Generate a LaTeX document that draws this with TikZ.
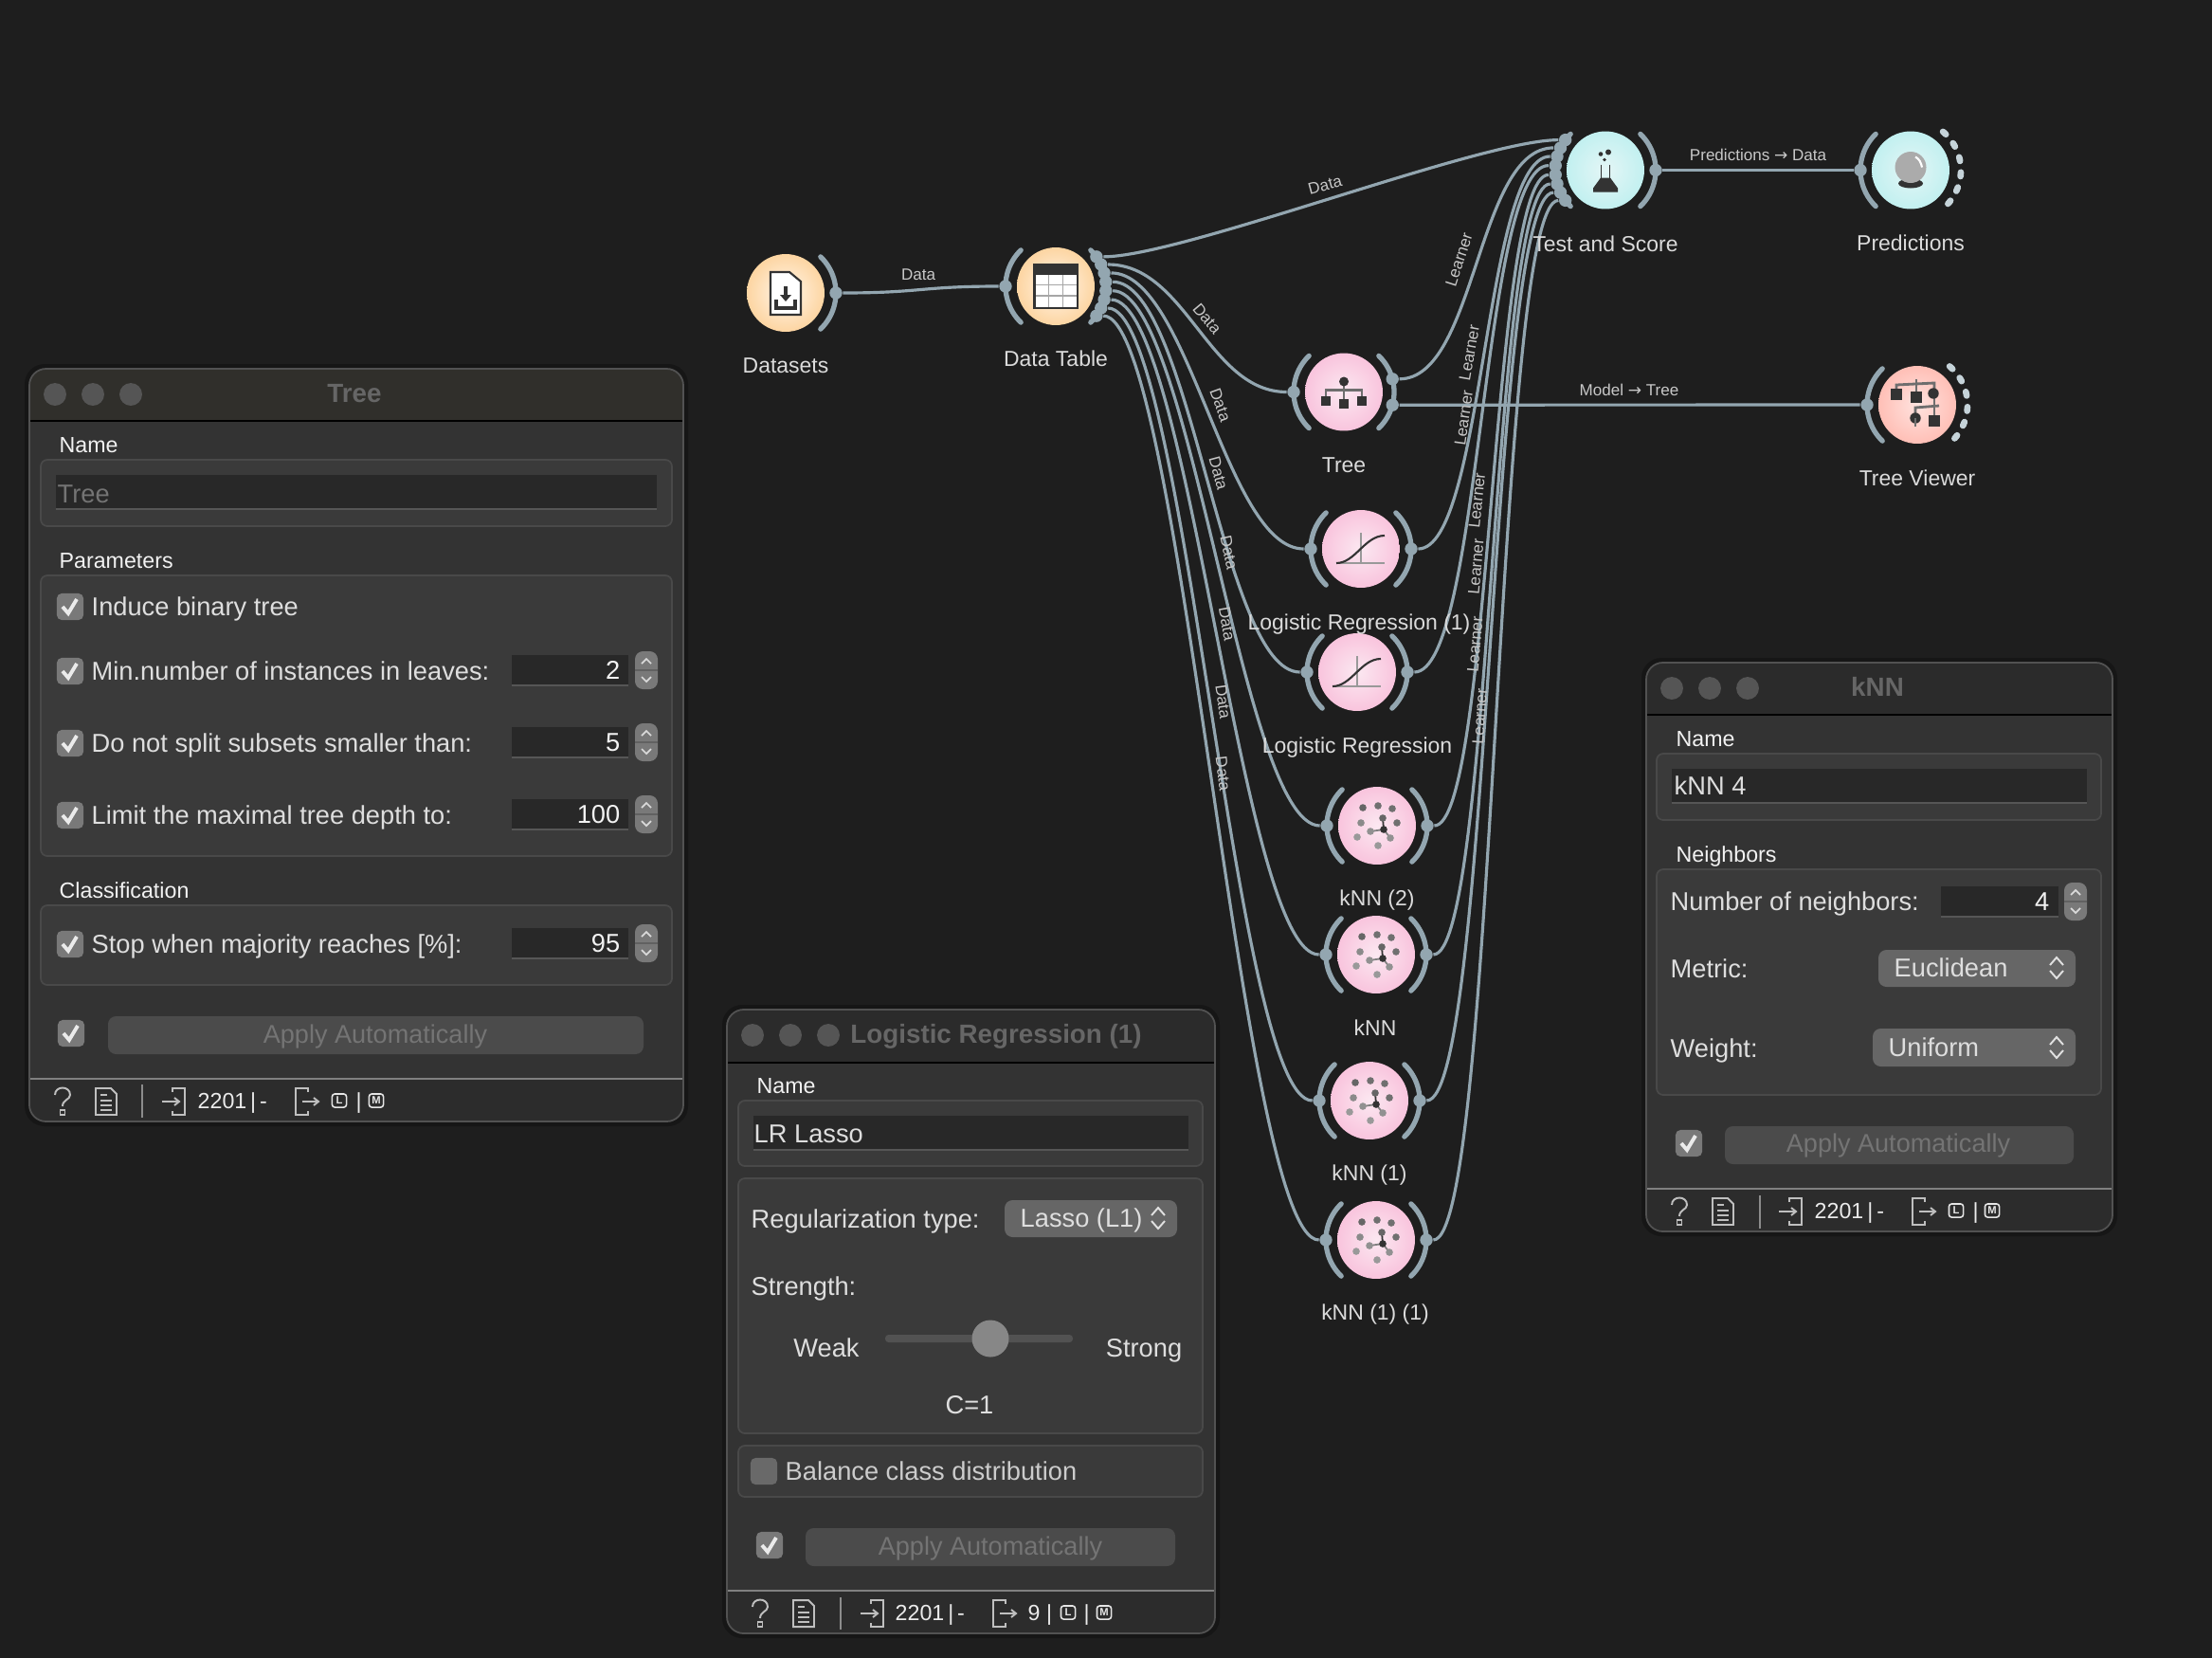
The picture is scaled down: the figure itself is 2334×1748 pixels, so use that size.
\documentclass[tikz,border=0pt]{standalone}
\usepackage{fontspec}
\setmainfont{Liberation Sans}
\newfontfamily\arrfont{DejaVu Sans}
\usetikzlibrary{calc}
\newcommand{\ftsp}{\spaceskip=.17em\relax}
\definecolor{bgcol}{HTML}{1E1E1E}
\definecolor{linkcol}{HTML}{93A6B0}
\definecolor{dashcol}{HTML}{C5D3D9}
\definecolor{icdark}{HTML}{333333}
\definecolor{icbar}{HTML}{6E6E6E}
\definecolor{orout}{HTML}{FDD5A2}
\definecolor{orin}{HTML}{FFF6EA}
\definecolor{piout}{HTML}{F9C4DD}
\definecolor{piin}{HTML}{FBE8F1}
\definecolor{cyout}{HTML}{C2F0F0}
\definecolor{cyin}{HTML}{E4F6F6}
\definecolor{saout}{HTML}{FFBFB6}
\definecolor{sain}{HTML}{FFE3DF}
\definecolor{wbody}{HTML}{333333}
\definecolor{wfootc}{HTML}{2C2C2C}
\definecolor{wtitle}{HTML}{2B2B2B}
\definecolor{wtitlew}{HTML}{302F2B}
\definecolor{gfill}{HTML}{3A3A3A}
\definecolor{gedge}{HTML}{494949}
\definecolor{infill}{HTML}{282828}
\definecolor{inedge}{HTML}{565656}
\definecolor{combo}{HTML}{666666}
\definecolor{btn}{HTML}{4B4B4B}
\definecolor{distxt}{HTML}{747474}
\tikzset{
  wnode/.style={circle, inner sep=0pt, minimum size=23.3pt, shade},
  orange/.style={wnode, inner color=orin, outer color=orout},
  pink/.style={wnode, inner color=piin, outer color=piout},
  cyan/.style={wnode, inner color=cyin, outer color=cyout},
  salmon/.style={wnode, inner color=sain, outer color=saout},
  pdot/.style={circle, inner sep=0pt, minimum size=3.8pt, fill=linkcol},
  parc/.style={draw=linkcol, line width=1.5pt, line cap=round},
  darc/.style={draw=dashcol, line width=1.9pt, line cap=round, dash pattern=on 1.2pt off 3.4pt},
  wlink/.style={draw=linkcol, line width=.9pt},
  wname/.style={font=\fontsize{6.53}{8}\selectfont, text=white!86!black, text height=4.6pt, text depth=0pt, inner sep=0pt},
  llab/.style={font=\fontsize{4.85}{6}\selectfont, text=white!78!black, text height=3.5pt, text depth=0pt, inner sep=0pt},
  wtxt/.style={font=\fontsize{7.75}{9}\selectfont, text=white!87!black, anchor=west, text height=5.4pt, text depth=0pt, inner sep=0pt},
  wsec/.style={font=\fontsize{6.6}{8}\selectfont, text=white!95!black, anchor=west, text height=4.7pt, text depth=0pt, inner sep=0pt},
  wnum/.style={font=\fontsize{7.75}{9}\selectfont, text=white!95!black, anchor=east, text height=5.4pt, text depth=0pt, inner sep=0pt},
  wtit/.style={font=\bfseries\fontsize{7.9}{9}\selectfont, text=white!40!black, text height=5.6pt, text depth=0pt, inner sep=0pt},
  wdis/.style={font=\fontsize{7.7}{9}\selectfont, text=distxt, text height=5.4pt, text depth=0pt, inner sep=0pt},
  wft/.style={font=\fontsize{6.6}{8}\selectfont, text=white!92!black, anchor=west, text height=4.7pt, text depth=0pt, inner sep=0pt},
  wlight/.style={circle, inner sep=0pt, minimum size=6.8pt, fill=white!20!wtitle},
  cbx/.style={rectangle, inner sep=0pt, minimum size=8pt, rounded corners=1.5pt, fill=white!32!gfill},
  lmbox/.style={rectangle, draw=white!90!black, line width=.45pt, rounded corners=.8pt, inner sep=0pt, minimum width=4.3pt, minimum height=4pt, font=\bfseries\fontsize{3.2}{3.2}\selectfont, text=white!90!black},
  gbox/.style={fill=gfill, draw=gedge, line width=.5pt, rounded corners=2pt},
  inbox/.style={fill=infill},
  inline/.style={draw=inedge, line width=.4pt},
  combox/.style={fill=combo, rounded corners=2.4pt},
  btnbox/.style={fill=btn, rounded corners=2.4pt},
  ftic/.style={draw=white!75!black, line width=.55pt},
  chkic/.pic={\draw[white!92!black, line width=1.1pt] (-8,0)--(-2,7)--(7,-8);},
  spinic/.pic={
    \fill[white!32!gfill, rounded corners=2.4pt] (-12,-20) rectangle (12,20);
    \draw[white!20!gfill, line width=.4pt] (-12,0)--(12,0);
    \draw[white!85!black, line width=.5pt] (-5,-7)--(0,-12)--(5,-7);
    \draw[white!85!black, line width=.5pt] (-5,7)--(0,12)--(5,7);},
  updownic/.pic={
    \draw[white!88!black, line width=.55pt] (-7,-3)--(0,-11)--(7,-3);
    \draw[white!88!black, line width=.55pt] (-7,3)--(0,11)--(7,3);},
  helpic/.pic={
    \draw[ftic] (-8,-7) .. controls (-8,-17) and (8,-17) .. (8,-7) .. controls (8,-2) and (0,-2) .. (0,5);
    \draw[ftic] (-2.5,9) rectangle (2.5,14);},
  docic/.pic={
    \draw[ftic] (-11,-14)--(5,-14)--(11,-8)--(11,14)--(-11,14)--cycle;
    \draw[ftic] (-6,-7)--(1,-7);
    \draw[ftic] (-6,-1)--(6,-1);
    \draw[ftic] (-6,4)--(6,4);
    \draw[ftic] (-6,9)--(6,9);},
  inic/.pic={
    \draw[ftic] (-1,-10)--(-1,-14)--(12,-14)--(12,14)--(-1,14)--(-1,10);
    \draw[ftic] (-12,0)--(6,0);
    \draw[ftic] (1,-4)--(6,0)--(1,4);},
  outic/.pic={
    \draw[ftic] (1,-10)--(1,-14)--(-12,-14)--(-12,14)--(1,14)--(1,10);
    \draw[ftic] (-5,0)--(12,0);
    \draw[ftic] (7,-4)--(12,0)--(7,4);},
  dsic/.pic={
    \fill[white, draw=icdark, line width=.6pt] (-16,-22)--(4,-22)--(16,-12)--(16,23)--(-16,23)--cycle;
    \draw[icdark, line width=.9pt] (0,-7)--(0,4);
    \fill[icdark] (-6,2)--(6,2)--(0,9)--cycle;
    \draw[icdark, line width=.9pt] (-10,7)--(-10,16)--(10,16)--(10,7);},
  tabic/.pic={
    \fill[white] (-22.5,-23) rectangle (23,23);
    \fill[icdark] (-22.5,-23) rectangle (23,-12);
    \draw[gray!70, line width=.4pt] (-7.5,-12)--(-7.5,22);
    \draw[gray!70, line width=.4pt] (7.5,-12)--(7.5,22);
    \draw[gray!70, line width=.4pt] (-22,-1.7)--(22,-1.7);
    \draw[gray!70, line width=.4pt] (-22,10)--(22,10);
    \draw[icdark, line width=.6pt] (-22.5,-23) rectangle (23,23);},
  flaskic/.pic={
    \fill[icdark] (-13,23)--(-13,19)--(-5,8)--(5,8)--(13,19)--(13,23)--cycle;
    \draw[icdark, line width=.5pt] (-4.5,-6)--(-4.5,9);
    \draw[icdark, line width=.5pt] (4.5,-6)--(4.5,9);
    \fill[icdark] (-5,-17) circle (2.3);
    \fill[icdark] (3,-19) circle (3);
    \fill[icdark] (-1,-11) circle (1.8);},
  ballic/.pic={
    \fill[icdark] (0,14) ellipse [x radius=13, y radius=5];
    \fill[white!67!black] (0,-3) circle (16.5);
    \draw[white, line width=.6pt] (5,-14) .. controls (9,-12) and (11,-8) .. (12,-3);},
  treeic/.pic={
    \draw[icbar, line width=.6pt] (0,-11)--(0,8);
    \draw[icbar, line width=.6pt] (-19,5)--(-19,-2)--(19,-2)--(19,5);
    \fill[icdark] (0,-11) circle (5);
    \fill[icdark] (-24,4) rectangle (-14,14);
    \fill[icdark] (-5,7) rectangle (5,17);
    \fill[icdark] (14,4) rectangle (24,14);},
  lric/.pic={
    \draw[white!60!black, line width=.55pt] (-26,15)--(25,15);
    \draw[white!60!black, line width=.55pt] (0,-17)--(0,15);
    \draw[icdark, line width=.6pt] (-26,15) .. controls (-6,15) and (4,-14) .. (25,-14);},
  mobic/.pic={
    \draw[icbar, line width=.8pt] (-22,-11)--(-22,-21)--(18,-23)--(18,-12);
    \draw[icbar, line width=.8pt] (-1,-27)--(-1,-8);
    \draw[icbar, line width=.8pt] (18,-12)--(18,17);
    \draw[icbar, line width=.8pt] (-2,14)--(-2,3)--(23,1);
    \fill[icdark] (-28,-17) rectangle (-16,-5);
    \fill[icdark] (-7,-14) rectangle (5,-2);
    \fill[icdark] (17,-12) circle (5.7);
    \fill[icdark] (-2,14) circle (5.7);
    \draw[icbar, line width=.8pt] (-2,14)--(-2,23);
    \fill[icdark] (12,11) rectangle (24,23);},
  knnic/.pic={
    \draw[gray, line width=.5pt] (-7,6)--(7,4)--(14,13);
    \draw[icdark, line width=.5pt] (7,4)--(6,-8);
    \fill[white!40!black] (-15,-19) circle (3.8);
    \fill[white!44!black] (1,-21) circle (3.8);
    \fill[white!44!black] (16,-18) circle (3.8);
    \fill[white!54!black] (-17,-3) circle (3.8);
    \fill[white!40!black] (6,-8) circle (3.8);
    \fill[white!44!black] (21,-3) circle (3.8);
    \fill[white!57!black] (-7,6) circle (3.8);
    \fill[white!57!black] (14,13) circle (3.8);
    \fill[white!60!black] (-21,12) circle (3.8);
    \fill[white!60!black] (1,21) circle (3.8);
    \fill[icdark] (7,4) circle (3.8);},
}
\newcommand{\wlinkto}[2]{\draw[wlink] let \p1=(#1),\p2=(#2),\n1={min((\x2-\x1)/2,25.6pt)} in (#1) .. controls (\x1+\n1,\y1) and (\x2-\n1,\y2) .. (#2);}
\newcommand{\warcl}[1]{\draw[parc] ([shift={(134:53)}]#1.center) arc[start angle=134, end angle=226, radius=53];}
\newcommand{\warcr}[1]{\draw[parc] ([shift={(-46:53)}]#1.center) arc[start angle=-46, end angle=46, radius=53];}
\newcommand{\warcd}[1]{\draw[darc] ([shift={(-50:53)}]#1.center) arc[start angle=-50, end angle=50, radius=53];}
\newcommand{\wwin}[7]{%
  \fill[black!25!bgcol, rounded corners=6pt] (#1-5,#2-5) rectangle (#3+5,#4+5);
  \begin{scope}
    \clip[rounded corners=5pt] (#1,#2) rectangle (#3,#4);
    \fill[wbody] (#1,#2) rectangle (#3,#4);
    \fill[#7] (#1,#2) rectangle (#3,#5);
    \fill[wfootc] (#1,#6) rectangle (#3,#4);
    \draw[black, line width=.5pt] (#1,#5)--(#3,#5);
    \draw[white!50!black, line width=.4pt] (#1,#6)--(#3,#6);
  \end{scope}
  \draw[white!32!black, line width=.5pt, rounded corners=5pt] (#1,#2) rectangle (#3,#4);}
\begin{document}
\begin{tikzpicture}[x=.01cm, y=-.01cm]
\useasboundingbox (0,0) rectangle (2334,1748);
\fill[bgcol] (-5,-5) rectangle (2340,1755);
\node[orange] (wid0) at (829,309){};
\node[orange] (wid1) at (1114,302){};
\node[cyan] (wid2) at (1694,179.5){};
\node[cyan] (wid3) at (2016,179.5){};
\node[pink] (wid4) at (1418,413.5){};
\node[salmon] (wid5) at (2023,427){};
\node[pink] (wid6) at (1436,579){};
\node[pink] (wid7) at (1432,709){};
\node[pink] (wid8) at (1453,871){};
\node[pink] (wid9) at (1452,1007){};
\node[pink] (wid10) at (1445,1161){};
\node[pink] (wid11) at (1452,1308){};
\pic at (wid0) {dsic};
\pic at (wid1) {tabic};
\pic at (wid2) {flaskic};
\pic at (wid3) {ballic};
\pic at (wid4) {treeic};
\pic at (wid5) {mobic};
\pic at (wid6) {lric};
\pic at (wid7) {lric};
\pic at (wid8) {knnic};
\pic at (wid9) {knnic};
\pic at (wid10) {knnic};
\pic at (wid11) {knnic};
\warcr{wid0}
\warcl{wid1}
\warcr{wid1}
\warcl{wid2}
\warcr{wid2}
\warcl{wid3}
\warcd{wid3}
\warcl{wid4}
\warcr{wid4}
\warcl{wid5}
\warcd{wid5}
\warcl{wid6}
\warcr{wid6}
\warcl{wid7}
\warcr{wid7}
\warcl{wid8}
\warcr{wid8}
\warcl{wid9}
\warcr{wid9}
\warcl{wid10}
\warcr{wid10}
\warcl{wid11}
\warcr{wid11}
\node[pdot] (pout0) at ([shift={(0:53)}]wid0.center){};
\node[pdot] (pin1) at ([shift={(180:53)}]wid1.center){};
\node[pdot] (pt0) at ([shift={(-36:53)}]wid1.center){};
\node[pdot] (pt1) at ([shift={(-25.7:53)}]wid1.center){};
\node[pdot] (pt2) at ([shift={(-15.4:53)}]wid1.center){};
\node[pdot] (pt3) at ([shift={(-5.1:53)}]wid1.center){};
\node[pdot] (pt4) at ([shift={(5.1:53)}]wid1.center){};
\node[pdot] (pt5) at ([shift={(15.4:53)}]wid1.center){};
\node[pdot] (pt6) at ([shift={(25.7:53)}]wid1.center){};
\node[pdot] (pt7) at ([shift={(36:53)}]wid1.center){};
\node[pdot] (ps0) at ([shift={(217:53)}]wid2.center){};
\node[pdot] (ps1) at ([shift={(206.4:53)}]wid2.center){};
\node[pdot] (ps2) at ([shift={(195.9:53)}]wid2.center){};
\node[pdot] (ps3) at ([shift={(185.3:53)}]wid2.center){};
\node[pdot] (ps4) at ([shift={(174.7:53)}]wid2.center){};
\node[pdot] (ps5) at ([shift={(164.1:53)}]wid2.center){};
\node[pdot] (ps6) at ([shift={(153.6:53)}]wid2.center){};
\node[pdot] (ps7) at ([shift={(143:53)}]wid2.center){};
\node[pdot] (sout) at ([shift={(0:53)}]wid2.center){};
\node[pdot] (prin) at ([shift={(180:53)}]wid3.center){};
\node[pdot] (trin) at ([shift={(180:53)}]wid4.center){};
\node[pdot] (trl) at ([shift={(-15:53)}]wid4.center){};
\node[pdot] (trm) at ([shift={(15:53)}]wid4.center){};
\node[pdot] (vin) at ([shift={(180:53)}]wid5.center){};
\node[pdot] (ain6) at ([shift={(180:53)}]wid6.center){};
\node[pdot] (aout6) at ([shift={(0:53)}]wid6.center){};
\node[pdot] (ain7) at ([shift={(180:53)}]wid7.center){};
\node[pdot] (aout7) at ([shift={(0:53)}]wid7.center){};
\node[pdot] (ain8) at ([shift={(180:53)}]wid8.center){};
\node[pdot] (aout8) at ([shift={(0:53)}]wid8.center){};
\node[pdot] (ain9) at ([shift={(180:53)}]wid9.center){};
\node[pdot] (aout9) at ([shift={(0:53)}]wid9.center){};
\node[pdot] (ain10) at ([shift={(180:53)}]wid10.center){};
\node[pdot] (aout10) at ([shift={(0:53)}]wid10.center){};
\node[pdot] (ain11) at ([shift={(180:53)}]wid11.center){};
\node[pdot] (aout11) at ([shift={(0:53)}]wid11.center){};
\wlinkto{pout0}{pin1}
\wlinkto{pt0}{ps0}
\wlinkto{pt1}{trin}
\wlinkto{pt2}{ain6}
\wlinkto{pt3}{ain7}
\wlinkto{pt4}{ain8}
\wlinkto{pt5}{ain9}
\wlinkto{pt6}{ain10}
\wlinkto{pt7}{ain11}
\wlinkto{trl}{ps1}
\wlinkto{aout6}{ps2}
\wlinkto{aout7}{ps3}
\wlinkto{aout8}{ps4}
\wlinkto{aout9}{ps5}
\wlinkto{aout10}{ps6}
\wlinkto{aout11}{ps7}
\wlinkto{sout}{prin}
\wlinkto{trm}{vin}
\node[wname] (nam0) at (829,385){Datasets};
\node[wname] (nam1) at (1114,378){Data Table};
\node[wname] (nam2) at (1694,257){Test and Score};
\node[wname] (nam3) at (2016,256){Predictions};
\node[wname] (nam4) at (1418,490){Tree};
\node[wname] (nam5) at (2023,504){Tree Viewer};
\node[wname] (nam6) at (1434,656){Logistic Regression (1)};
\node[wname] (nam7) at (1432,786){Logistic Regression};
\node[wname] (nam8) at (1453,947){kNN (2)};
\node[wname] (nam9) at (1451,1084){kNN};
\node[wname] (nam10) at (1445,1237){kNN (1)};
\node[wname] (nam11) at (1451,1384){kNN (1) (1)};
\node[llab] (lab0) at (969,289){Data};
\node[llab, rotate=15] (lab1) at (1398,195){Data};
\node[llab, rotate=-50] (lab2) at (1274,336){Data};
\node[llab, rotate=-70] (lab3) at (1288,427){Data};
\node[llab, rotate=-75] (lab4) at (1286,499){Data};
\node[llab, rotate=-78] (lab5) at (1297,583){Data};
\node[llab, rotate=-80] (lab6) at (1295,658){Data};
\node[llab, rotate=-82] (lab7) at (1291,740){Data};
\node[llab, rotate=-83] (lab8) at (1291,816){Data};
\node[llab, rotate=72] (lab9) at (1539,274){Learner};
\node[llab, rotate=80] (lab10) at (1550,372){Learner};
\node[llab, rotate=82] (lab11) at (1544,441){Learner};
\node[llab, rotate=84] (lab12) at (1558,528){Learner};
\node[llab, rotate=85] (lab13) at (1557,598){Learner};
\node[llab, rotate=85] (lab14) at (1556,680){Learner};
\node[llab, rotate=86] (lab15) at (1561,756){Learner};
\node[llab] (lab16) at (1855,163){Predictions {\arrfont →} Data};
\node[llab] (lab17) at (1719,411){Model {\arrfont →} Tree};
\wwin{31}{389}{721}{1183}{444}{1138}{wtitlew}
\node[wlight] (tl0) at (58,416){};
\node[wlight] (tl1) at (98,416){};
\node[wlight] (tl2) at (138,416){};
\node[wtit] (tt0) at (374,415){Tree};
\node[wsec] (tt1) at (62,469){Name};
\draw[gbox] (43,485) rectangle (709,555);
\fill[inbox] (59,501) rectangle (693,537);
\draw[inline] (59,537)--(693,537);
\node[wtxt, text=distxt] (tt2) at (60,521){Tree};
\node[wsec] (tt3) at (62,591){Parameters};
\draw[gbox] (43,607) rectangle (709,903);
\node[cbx] (tc0) at (74,640){};
\pic at (tc0) {chkic};
\node[wtxt] (tt4) at (96,640){Induce binary tree};
\node[cbx] (tc1) at (74,708){};
\pic at (tc1) {chkic};
\node[wtxt] (tt5) at (96,708){Min.number of instances in leaves:};
\fill[inbox] (540,691) rectangle (663,723);
\draw[inline] (540,723)--(663,723);
\node[wnum] (tt6) at (655,707){2};
\pic at (682,707) {spinic};
\node[cbx] (tc2) at (74,784){};
\pic at (tc2) {chkic};
\node[wtxt] (tt7) at (96,784){Do not split subsets smaller than:};
\fill[inbox] (540,767) rectangle (663,799);
\draw[inline] (540,799)--(663,799);
\node[wnum] (tt8) at (655,783){5};
\pic at (682,783) {spinic};
\node[cbx] (tc3) at (74,860){};
\pic at (tc3) {chkic};
\node[wtxt] (tt9) at (96,860){Limit the maximal tree depth to:};
\fill[inbox] (540,843) rectangle (663,875);
\draw[inline] (540,875)--(663,875);
\node[wnum] (tt10) at (655,859){100};
\pic at (682,859) {spinic};
\node[wsec] (tt11) at (62,939){Classification};
\draw[gbox] (43,955) rectangle (709,1039);
\node[cbx] (tc4) at (74,996){};
\pic at (tc4) {chkic};
\node[wtxt] (tt12) at (96,996){Stop when majority reaches [\%]:};
\fill[inbox] (540,979) rectangle (663,1011);
\draw[inline] (540,1011)--(663,1011);
\node[wnum] (tt13) at (655,995){95};
\pic at (682,995) {spinic};
\node[cbx] (tc5) at (75,1090){};
\pic at (tc5) {chkic};
\fill[btnbox] (114,1072) rectangle (679,1112);
\node[wdis] (tt14) at (396,1091){Apply Automatically};
\pic at (66,1162) {helpic};
\pic at (112,1162) {docic};
\draw[white!55!black, line width=.4pt] (150,1144)--(150,1179);
\pic at (183,1162) {inic};
\node[wft] (tt15) at (208,1161){\ftsp 2201 | -};
\pic at (324,1162) {outic};
\node[lmbox] (tt16) at (358,1161){L};
\node[wft] (tt17) at (375,1161){|};
\node[lmbox] (tt18) at (397,1161){M};
\wwin{767}{1065}{1282}{1723}{1121}{1678}{wtitle}
\node[wlight] (ll0) at (794,1092){};
\node[wlight] (ll1) at (834,1092){};
\node[wlight] (ll2) at (874,1092){};
\node[wtit] (lt0) at (1051,1091){Logistic Regression (1)};
\node[wsec] (lt1) at (798,1145){Name};
\draw[gbox] (779,1161) rectangle (1269,1230);
\fill[inbox] (795,1177) rectangle (1254,1213);
\draw[inline] (795,1213)--(1254,1213);
\node[wtxt] (lt2) at (795,1196){LR Lasso};
\draw[gbox] (779,1243) rectangle (1269,1512);
\node[wtxt] (lt3) at (792,1286){Regularization type:};
\fill[combox] (1060,1266) rectangle (1242,1305);
\node[wtxt] (lt4) at (1076,1285){Lasso (L1)};
\pic at (1222,1285) {updownic};
\node[wtxt] (lt5) at (792,1357){Strength:};
\node[wtxt, anchor=center] (lt6) at (872,1422){Weak};
\node[wtxt, anchor=center] (lt7) at (1207,1422){Strong};
\fill[white!32!black, rounded corners=1pt] (934,1408) rectangle (1132,1416);
\fill[white!53!black] (1045,1412) circle (19.5);
\node[wtxt, anchor=center] (lt8) at (1023,1482){C=1};
\draw[gbox] (779,1525) rectangle (1269,1579);
\node[cbx, fill=white!24!gfill] (lc0) at (806,1552){};
\node[wtxt, text=white!80!black] (lt9) at (828,1552){Balance class distribution};
\node[cbx] (lc1) at (812,1630){};
\pic at (lc1) {chkic};
\fill[btnbox] (850,1612) rectangle (1240,1652);
\node[wdis] (lt10) at (1045,1631){Apply Automatically};
\pic at (802,1702) {helpic};
\pic at (848,1702) {docic};
\draw[white!55!black, line width=.4pt] (887,1685)--(887,1719);
\pic at (920,1702) {inic};
\node[wft] (lt11) at (944,1701){\ftsp 2201 | -};
\pic at (1060,1702) {outic};
\node[wft] (lt12) at (1084,1701){9 |};
\node[lmbox] (lt13) at (1127,1701){L};
\node[wft] (lt14) at (1143,1701){|};
\node[lmbox] (lt15) at (1165,1701){M};
\wwin{1737}{699}{2229}{1299}{754}{1254}{wtitle}
\node[wlight] (kl0) at (1764,726){};
\node[wlight] (kl1) at (1804,726){};
\node[wlight] (kl2) at (1844,726){};
\node[wtit] (kt0) at (1981,725){kNN};
\node[wsec] (kt1) at (1768,779){Name};
\draw[gbox] (1748,795) rectangle (2217,865);
\fill[inbox] (1764,811) rectangle (2202,847);
\draw[inline] (1764,847)--(2202,847);
\node[wtxt] (kt2) at (1766,829){kNN 4};
\node[wsec] (kt3) at (1768,901){Neighbors};
\draw[gbox] (1748,917) rectangle (2217,1155);
\node[wtxt] (kt4) at (1762,951){Number of neighbors:};
\fill[inbox] (2048,935) rectangle (2172,967);
\draw[inline] (2048,967)--(2172,967);
\node[wnum] (kt5) at (2163,951){4};
\pic at (2190,951) {spinic};
\node[wtxt] (kt6) at (1762,1022){Metric:};
\fill[combox] (1982,1002) rectangle (2190,1041);
\node[wtxt] (kt7) at (1998,1021){Euclidean};
\pic at (2170,1021) {updownic};
\node[wtxt] (kt8) at (1762,1106){Weight:};
\fill[combox] (1976,1085) rectangle (2190,1125);
\node[wtxt] (kt9) at (1992,1105){Uniform};
\pic at (2170,1105) {updownic};
\node[cbx] (kc0) at (1782,1206){};
\pic at (kc0) {chkic};
\fill[btnbox] (1820,1188) rectangle (2188,1228);
\node[wdis] (kt10) at (2003,1206){Apply Automatically};
\pic at (1772,1278) {helpic};
\pic at (1818,1278) {docic};
\draw[white!55!black, line width=.4pt] (1857,1261)--(1857,1296);
\pic at (1889,1278) {inic};
\node[wft] (kt11) at (1914,1277){\ftsp 2201 | -};
\pic at (2030,1278) {outic};
\node[lmbox] (kt12) at (2064,1277){L};
\node[wft] (kt13) at (2081,1277){|};
\node[lmbox] (kt14) at (2102,1277){M};
\end{tikzpicture}
\end{document}
